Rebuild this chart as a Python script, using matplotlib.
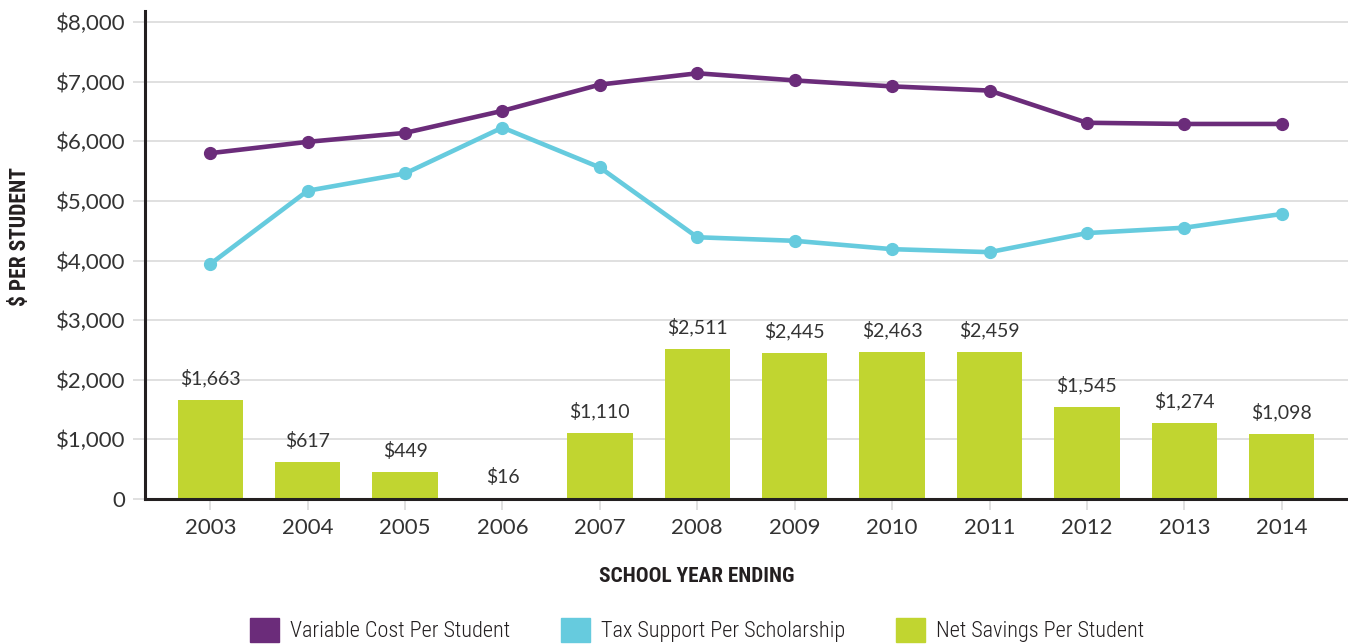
import matplotlib
matplotlib.use("Agg")
import matplotlib.pyplot as plt
from matplotlib.patches import Patch
import numpy as np

years = ["2003", "2004", "2005", "2006", "2007", "2008", "2009", "2010", "2011", "2012", "2013", "2014"]
variable_cost = [5800, 5990, 6140, 6510, 6950, 7140, 7020, 6920, 6850, 6310, 6290, 6290]
tax_support = [3940, 5170, 5460, 6230, 5560, 4390, 4330, 4190, 4140, 4460, 4550, 4780]
net_savings = [1663, 617, 449, 16, 1110, 2511, 2445, 2463, 2459, 1545, 1274, 1098]
y_ticks = [0, 1000, 2000, 3000, 4000, 5000, 6000, 7000, 8000]
y_tick_labels = ["0", "$1,000", "$2,000", "$3,000", "$4,000", "$5,000", "$6,000", "$7,000", "$8,000"]

PURPLE = "#6B2C7A"
CYAN = "#66CBDE"
GREEN = "#C1D530"
TXT = "#333333"
NUM_FONT = "Lato"
COND_FONT = "Roboto Condensed"

fig = plt.figure(figsize=(13.48, 6.44), dpi=100)
ax = fig.add_axes([145/1348, 145/644, 1203/1348, 488/644])

x = np.arange(len(years))
ax.bar(x, net_savings, width=0.67, color=GREEN, zorder=2)
for xi, v in zip(x, net_savings):
    ax.text(xi, v + 210, f"${v:,}", ha="center", va="bottom", fontsize=14,
            color=TXT, family=NUM_FONT)

ax.plot(x, variable_cost, color=PURPLE, lw=3.3, marker="o", ms=8.5, zorder=4, solid_capstyle="round")
ax.plot(x, tax_support, color=CYAN, lw=3.3, marker="o", ms=8.5, zorder=3, solid_capstyle="round")

ax.set_xlim(-0.67, 11.68)
ax.set_ylim(0, 8000 * 488 / 477)
ax.set_yticks(y_ticks)
ax.set_yticklabels(y_tick_labels, fontsize=16, color=TXT, family=NUM_FONT)
ax.set_xticks(x)
ax.set_xticklabels(years, fontsize=16, color=TXT, family=NUM_FONT)
ax.grid(axis="y", color="#dddddd", lw=1.3, zorder=0)
ax.set_axisbelow(True)
ax.tick_params(axis="y", length=9, width=1.3, color="#dddddd", pad=5)
ax.tick_params(axis="x", length=8, width=1.3, color="#dddddd", pad=6)

for s in ["top", "right"]:
    ax.spines[s].set_color("none")
for s in ["left", "bottom"]:
    ax.spines[s].set_color("#231f20")
    ax.spines[s].set_linewidth(2.2)

fig.text(20/1348, 1 - 237/644, "$ PER STUDENT", rotation=90, ha="center", va="center",
         fontsize=15.5, fontweight="bold", color="#231f20", family=COND_FONT)
fig.text(697/1348, 1 - 577/644, "SCHOOL YEAR ENDING", ha="center", va="center",
         fontsize=15.3, fontweight="bold", color="#231f20", family=COND_FONT)

handles = [Patch(color=PURPLE, label="Variable Cost Per Student"),
           Patch(color=CYAN, label="Tax Support Per Scholarship"),
           Patch(color=GREEN, label="Net Savings Per Student")]
leg = fig.legend(handles=handles, loc="center", bbox_to_anchor=(697/1348, 1 - 630/644),
                 ncol=3, frameon=False, handlelength=1.3, handleheight=1.3,
                 columnspacing=2.3, handletextpad=0.5,
                 prop={"family": COND_FONT, "size": 16, "weight": "light"})
for t in leg.get_texts():
    t.set_color("#231f20")

fig.savefig("out.png", dpi=100)
